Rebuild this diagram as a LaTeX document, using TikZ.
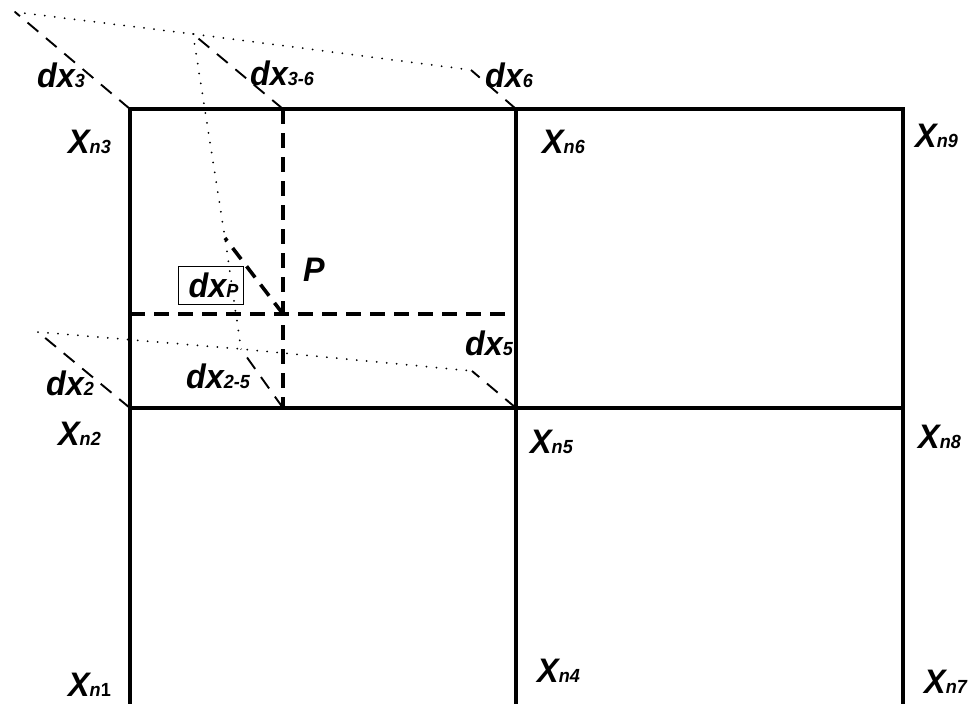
\documentclass[tikz,border=0pt]{standalone}
\usepackage{fontspec}
\newfontfamily\lblfont{Liberation Sans}[FakeStretch=0.95]
\usepackage{tikz}
\usetikzlibrary{positioning}
\newcommand{\nlab}[2]{{\fontsize{34}{35}\selectfont #1}{\fontsize{19}{20}\selectfont #2}}
\tikzset{
    grid/.style={draw, line width=4pt, line cap=rect},
    gridcut/.style={draw, line width=3.6pt, dash pattern=on 15pt off 9pt},
    disp/.style={draw, line width=1.9pt, dash pattern=on 14pt off 10pt},
    dispP/.style={draw, line width=3.6pt, dash pattern=on 14pt off 9pt},
    deform/.style={draw, line width=2pt, line cap=round, dash pattern=on 0pt off 10pt},
    lbl/.style={anchor=base west, inner sep=0pt, font=\lblfont\bfseries\itshape},
    lblbox/.style={draw, line width=0.9pt, inner sep=0pt, minimum width=65pt, minimum height=38pt, font=\lblfont\bfseries\itshape},
}
\begin{document}
\begin{tikzpicture}[x=1pt, y=-1pt]
    \useasboundingbox (0,0) rectangle (980,704);

    \coordinate (n1) at (130,706);
    \coordinate (n2) at (130,408);
    \coordinate (n3) at (130,109);
    \coordinate (n4) at (516,706);
    \coordinate (n5) at (516,408);
    \coordinate (n6) at (516,109);
    \coordinate (n7) at (903,706);
    \coordinate (n8) at (903,408);
    \coordinate (n9) at (903,109);
    \coordinate (n36) at (283,109);
    \coordinate (n25) at (283,408);
    \coordinate (pl) at (130,314);
    \coordinate (pr) at (516,314);
    \coordinate (p) at (283,314);

    \coordinate (t3) at (15,12);
    \coordinate (t36) at (193,34);
    \coordinate (t6) at (471,70);
    \coordinate (t2) at (38,332);
    \coordinate (t25) at (241,349);
    \coordinate (t5) at (472,371);
    \coordinate (tp) at (225,238);

    \draw[deform] (t3) -- (t36) -- (t6);
    \draw[deform] (t2) -- (t25) -- (t5);
    \draw[deform] (t36) -- (tp) -- (t25);

    \draw[disp] (n3) -- (t3);
    \draw[disp] (n36) -- (t36);
    \draw[disp] (n6) -- (t6);
    \draw[disp] (n2) -- (t2);
    \draw[disp] (n25) -- (t25);
    \draw[disp] (n5) -- (t5);
    \draw[dispP] (p) -- (tp);

    \draw[gridcut] (n36) -- (n25);
    \draw[gridcut] (pl) -- (pr);

    \draw[grid] (n1) -- (n3) -- (n9) -- (n7);
    \draw[grid] (n4) -- (n6);
    \draw[grid] (n2) -- (n8);

    \node[lbl] (ln1) at (68,696) {\nlab{X}{n\upshape 1}};
    \node[lbl] (ln2) at (58,445) {\nlab{X}{n2}};
    \node[lbl] (ln3) at (68,153) {\nlab{X}{n3}};
    \node[lbl] (ln4) at (537,682) {\nlab{X}{n4}};
    \node[lbl] (ln5) at (530,453) {\nlab{X}{n5}};
    \node[lbl] (ln6) at (542,153) {\nlab{X}{n6}};
    \node[lbl] (ln7) at (924,693) {\nlab{X}{n7}};
    \node[lbl] (ln8) at (918,448) {\nlab{X}{n8}};
    \node[lbl] (ln9) at (915,147) {\nlab{X}{n9}};

    \node[lbl] (ld3) at (37,87) {\nlab{dx}{3}};
    \node[lbl] (ld36) at (250,85) {\nlab{dx}{3-6}};
    \node[lbl] (ld6) at (485,87) {\nlab{dx}{6}};
    \node[lbl] (ld2) at (46,395) {\nlab{dx}{2}};
    \node[lbl] (ld25) at (186,388) {\nlab{dx}{2-5}};
    \node[lbl] (ld5) at (465,355) {\nlab{dx}{5}};
    \node[lbl] (lp) at (303,281) {\nlab{P}{}};
    \node[lblbox] (ldp) at (210.5,285) {\hspace*{6pt}\nlab{dx}{P}};
\end{tikzpicture}
\end{document}
